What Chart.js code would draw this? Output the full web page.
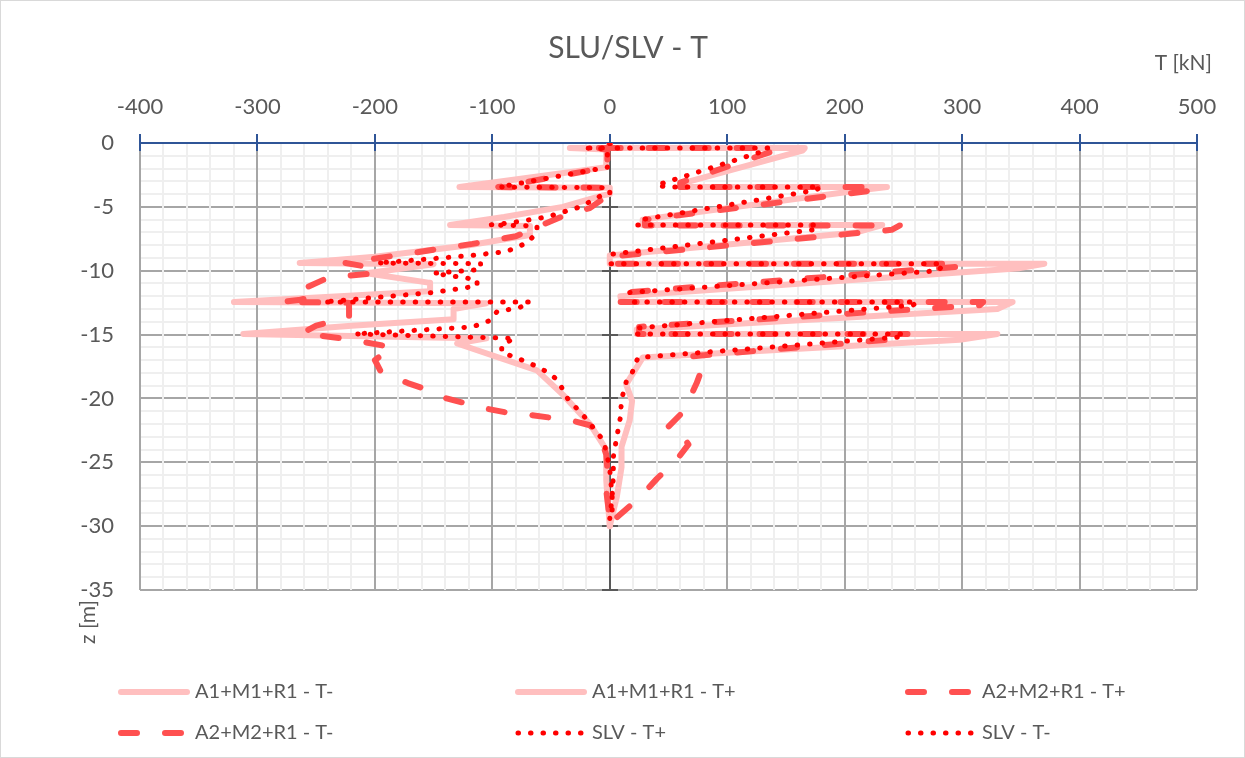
<!DOCTYPE html>
<html>
<head>
<meta charset="utf-8">
<title>SLU/SLV - T</title>
<script src="https://cdn.jsdelivr.net/npm/chart.js@4.4.1/dist/chart.umd.min.js"></script>
<style>
  body { margin: 0; background: #fff; }
  canvas { display: block; }
</style>
</head>
<body>
<canvas id="chart" width="1245" height="758"></canvas>
<script>
// Shear T [kN] along depth z [m], one pair of arrays per envelope
const a1MinusT = [0, 0, -34, -3, -3, -128, 0, 0, -6, -40, -90, -136, -68, -68, -120, -200, -264, -150, -207, -153,
  -153, -230, -320, -105, -133, -133, -220, -312, -105, -130, -62, -40, -17, -3, -3, -2, 0];
const a1MinusZ = [0, -0.4, -0.4, -0.5, -1.9, -3.45, -3.5, -4.0, -4.1, -5.0, -5.8, -6.42, -6.5, -7.2, -8.0, -8.9, -9.4, -9.5, -10.2, -10.95,
  -11.6, -12.0, -12.45, -12.55, -13.0, -13.8, -14.3, -14.95, -15.3, -15.7, -17.8, -19.7, -22.0, -24.0, -26.4, -27.7, -30];

const a1PlusT = [0, 0, 166, 164, 60, 60, 236, 213, 28, 28, 232, 210, 0, 0, 370, 349, 9, 10, 343, 330,
  23, 23, 330, 298, 28, 14, 19, 17, 10, 10, 6, 0];
const a1PlusZ = [0, -0.4, -0.4, -0.6, -3.2, -3.45, -3.45, -3.7, -6.0, -6.42, -6.42, -7.0, -8.8, -9.45, -9.45, -9.8, -12.0, -12.45, -12.45, -13.0,
  -14.6, -14.95, -14.95, -15.4, -16.8, -18.9, -20.2, -21.7, -23.8, -25.4, -27.7, -30];

const a2PlusT = [0, 0, 140, 137, 60, 60, 228, 225, 30, 30, 247, 240, 0, 0, 300, 295, 6, 6, 318, 315,
  25, 25, 255, 250, 70, 80, 74, 63, 49, 60, 67, 57, 40, 25, 5];
const a2PlusZ = [0, -0.4, -0.4, -0.7, -3.1, -3.45, -3.45, -3.7, -6.0, -6.45, -6.45, -6.8, -8.9, -9.45, -9.45, -9.7, -11.75, -12.45, -12.45, -12.7,
  -14.4, -14.95, -14.95, -15.3, -16.7, -17.3, -18.8, -21.0, -22.3, -22.7, -23.6, -24.8, -26.3, -27.8, -29.4];

const a2MinusT = [0, 0, -20, -2, -2, -95, 0, 0, -17, -34, -60, -80, -117, -225, -200, -200, -240, -258, -250, -265,
  -280, -222, -222, -250, -262, -220, -185, -200, -195, -172, -156, -139, -122, -105, -88, -68, -51, -34, -17, -8,
  -3, -2, -3, 0];
const a2MinusZ = [0, -0.4, -0.4, -0.5, -1.9, -3.45, -3.5, -4.0, -5.1, -5.5, -6.5, -7.3, -7.9, -9.4, -9.8, -10.2, -10.55, -11.3, -12.0, -12.3,
  -12.45, -12.5, -13.6, -14.3, -14.9, -15.4, -16.0, -17.0, -17.9, -18.8, -19.3, -20.0, -20.4, -20.8, -21.1, -21.3, -21.5, -21.7, -22.1, -23.0,
  -24.4, -25.6, -27.2, -29.5];

const slvPlusT = [0, 0, 135, 134, 40, 49, 180, 175, 27, 23, 177, 173, 2, 0, 284, 280, 17, 19, 262, 258,
  21, 23, 251, 245, 24, 19, 14, 10, 9, 6, 3, 3, 2, 0];
const slvPlusZ = [0, -0.4, -0.4, -0.55, -3.3, -3.45, -3.45, -3.7, -6.0, -6.42, -6.42, -6.8, -8.7, -9.45, -9.45, -10.0, -11.7, -12.45, -12.45, -12.7,
  -14.5, -14.95, -14.95, -15.2, -16.8, -18.0, -18.7, -20.1, -21.5, -23.0, -24.6, -26.2, -27.7, -29.4];

const slvMinusT = [0, 0, -23, -2, -2, -94, 0, 0, -7, -25, -54, -85, -102, -62, -62, -70, -88, -117, -150, -198,
  -110, -110, -150, -113, -113, -150, -244, -68, -77, -96, -102, -117, -217, -81, -92, -92, -80, -72, -62, -54,
  -45, -40, -36, -28, -21, -14, -8, -4, -2, 0, 1, 2, 2];
const slvMinusZ = [0, -0.4, -0.4, -0.45, -1.9, -3.45, -3.5, -4.0, -4.1, -5.0, -5.8, -6.26, -6.42, -6.5, -7.0, -7.8, -8.5, -8.8, -9.05, -9.4,
  -9.45, -9.9, -10.2, -10.7, -11.2, -11.7, -12.45, -12.45, -12.9, -13.2, -13.9, -14.4, -14.95, -15.3, -15.8, -16.4, -16.8, -17.1, -17.5, -17.9,
  -18.5, -19.3, -20.0, -20.8, -21.5, -22.3, -23.0, -23.8, -24.6, -25.6, -26.6, -27.7, -29.4];

const seriesNames = ["A1+M1+R1 - T-", "A1+M1+R1 - T+", "A2+M2+R1 - T+", "A2+M2+R1 - T-", "SLV - T+", "SLV - T-"];

// Axis ranges and labelled ticks
const tMin = -400, tMax = 500, tMinor = 20;
const zMin = -35, zMax = 0, zMinor = 1;
const tLabels = [-400, -300, -200, -100, 0, 100, 200, 300, 400, 500];
const zLabels = [0, -5, -10, -15, -20, -25, -30, -35];

const textGray = "#595959";
const majorGrid = "#a6a6a6";
const minorGrid = "#efefef";
const fontFamily = "Lato, 'Open Sans', sans-serif";

const toPoints = (t, z) => t.map((v, i) => ({ x: v, y: z[i] }));

function range(from, to, step) {
  const out = [];
  for (let v = from; v <= to + 1e-9; v += step) out.push(Math.round(v * 100) / 100);
  return out;
}

// Line styles: light solid, long dash, round dot
const pinkLine = { borderColor: "#ffbfbf", borderWidth: 6, borderDash: [], order: 3 };
const dashLine = { borderColor: "#ff5050", borderWidth: 6, borderDash: [16, 28], order: 2 };
const dotLine = { borderColor: "#ff0000", borderWidth: 5, borderDash: [0.5, 12], order: 1 };

const seriesData = [
  [a1MinusT, a1MinusZ, pinkLine],
  [a1PlusT, a1PlusZ, pinkLine],
  [a2PlusT, a2PlusZ, dashLine],
  [a2MinusT, a2MinusZ, dashLine],
  [slvPlusT, slvPlusZ, dotLine],
  [slvMinusT, slvMinusZ, dotLine],
];

const datasets = seriesData.map(([t, z, style], i) => ({
  label: seriesNames[i],
  data: toPoints(t, z),
  showLine: true,
  pointRadius: 0,
  pointHoverRadius: 0,
  tension: 0,
  borderCapStyle: "round",
  borderJoinStyle: "round",
  ...style,
}));

// Background, axes through the plot, title, axis names and legend
const chartFrame = {
  id: "chartFrame",
  beforeDraw(chart) {
    const { ctx, width, height } = chart;
    ctx.save();
    ctx.fillStyle = "#fff";
    ctx.fillRect(0, 0, width, height);
    ctx.restore();
  },
  beforeDatasetsDraw(chart) {
    const { ctx, chartArea: area, scales: { x, y } } = chart;
    ctx.save();
    ctx.lineWidth = 2;

    // vertical axis at T = 0 with cross ticks
    const x0 = Math.round(x.getPixelForValue(0));
    ctx.strokeStyle = textGray;
    ctx.beginPath();
    ctx.moveTo(x0, area.top);
    ctx.lineTo(x0, area.bottom);
    zLabels.forEach(v => {
      if (v === 0) return;
      const py = Math.round(y.getPixelForValue(v));
      ctx.moveTo(x0 - 8, py);
      ctx.lineTo(x0 + 8, py);
    });
    ctx.stroke();

    // T axis on top
    ctx.strokeStyle = "#2f5597";
    ctx.beginPath();
    ctx.moveTo(area.left, area.top);
    ctx.lineTo(area.right, area.top);
    tLabels.forEach(v => {
      const px = Math.round(x.getPixelForValue(v));
      ctx.moveTo(px, area.top - 9);
      ctx.lineTo(px, area.top + 8);
    });
    ctx.stroke();
    ctx.restore();
  },
  afterDraw(chart) {
    const { ctx, width, height } = chart;
    ctx.save();
    ctx.fillStyle = textGray;
    ctx.textBaseline = "middle";

    ctx.font = `30px ${fontFamily}`;
    ctx.textAlign = "center";
    ctx.fillText("SLU/SLV - T", 628, 48);

    ctx.font = `21px ${fontFamily}`;
    ctx.textAlign = "right";
    ctx.fillText("T [kN]", 1212, 63);

    ctx.save();
    ctx.translate(88, 622);
    ctx.rotate(-Math.PI / 2);
    ctx.textAlign = "center";
    ctx.fillText("z [m]", 0, 0);
    ctx.restore();

    // legend, three entries per row
    const legendX = [118, 515, 905];
    const legendY = [692, 733];
    ctx.font = `20px ${fontFamily}`;
    ctx.textAlign = "left";
    chart.data.datasets.forEach((ds, i) => {
      const lx = legendX[i % 3];
      const ly = legendY[Math.floor(i / 3)];
      ctx.save();
      ctx.strokeStyle = ds.borderColor;
      ctx.lineWidth = ds.borderWidth;
      ctx.lineCap = "round";
      ctx.setLineDash(ds.borderDash);
      ctx.beginPath();
      ctx.moveTo(lx + 3, ly);
      ctx.lineTo(lx + 69, ly);
      ctx.stroke();
      ctx.restore();
      ctx.fillText(ds.label, lx + 77, ly);
    });

    ctx.strokeStyle = "#d9d9d9";
    ctx.lineWidth = 1;
    ctx.strokeRect(0.5, 0.5, width - 1, height - 1);
    ctx.restore();
  }
};

const gridColor = labels => c => labels.includes(c.tick.value) ? majorGrid : minorGrid;

new Chart(document.getElementById("chart"), {
  type: "scatter",
  data: { datasets },
  options: {
    responsive: false,
    animation: false,
    devicePixelRatio: 1,
    events: [],
    layout: { padding: { top: 0, left: 0, right: 48, bottom: 168 } },
    plugins: { legend: { display: false }, tooltip: { enabled: false }, title: { display: false } },
    scales: {
      x: {
        type: "linear",
        position: "top",
        min: tMin,
        max: tMax,
        afterFit: s => { s.height = 143; },
        afterBuildTicks: s => { s.ticks = range(tMin, tMax, tMinor).map(v => ({ value: v })); },
        border: { display: false },
        grid: { z: -1, drawTicks: false, lineWidth: 2, color: gridColor(tLabels) },
        ticks: {
          autoSkip: false,
          maxRotation: 0,
          padding: 23,
          color: textGray,
          font: { family: fontFamily, size: 22 },
          callback: v => tLabels.includes(v) ? String(v) : ""
        }
      },
      y: {
        type: "linear",
        position: "left",
        min: zMin,
        max: zMax,
        afterFit: s => { s.width = 140; },
        afterBuildTicks: s => { s.ticks = range(zMin, zMax, zMinor).map(v => ({ value: v })); },
        border: { display: false },
        grid: { z: -2, drawTicks: false, lineWidth: 2, color: gridColor(zLabels) },
        ticks: {
          autoSkip: false,
          padding: 26,
          color: textGray,
          font: { family: fontFamily, size: 22 },
          callback: v => zLabels.includes(v) ? String(v) : ""
        }
      }
    }
  },
  plugins: [chartFrame]
});
</script>
</body>
</html>
